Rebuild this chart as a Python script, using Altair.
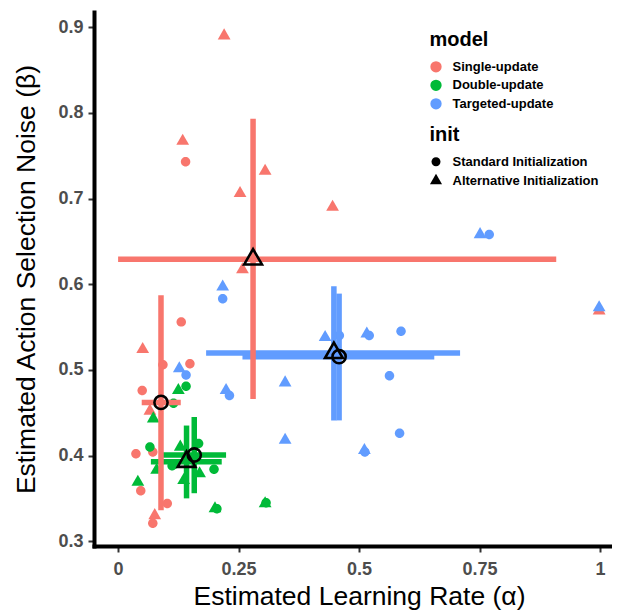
import altair as alt
import pandas as pd

MODELS = ["Single-update", "Double-update", "Targeted-update"]
INITS = ["Standard Initialization", "Alternative Initialization"]
MODEL_COLORS = ["#F8766D", "#00BA38", "#619CFF"]

CIRCLE_PATH = "M1,0A1,1,0,1,1,-1,0A1,1,0,1,1,1,0Z"
TRIANGLE_PATH = "M0,-1.555L1.347,0.778L-1.347,0.778Z"

X_TICKS = [0, 0.25, 0.5, 0.75, 1]
Y_TICKS = [0.3, 0.4, 0.5, 0.6, 0.7, 0.8, 0.9]

# individual estimates (alpha = learning rate, beta = selection noise)
single_std_alpha = [0.131, 0.093, 0.149, 0.050, 0.037, 0.072, 0.047, 0.102, 0.072, 0.140]
single_std_beta = [0.556, 0.506, 0.507, 0.476, 0.402, 0.404, 0.359, 0.344, 0.321, 0.743]
single_alt_alpha = [0.220, 0.134, 0.305, 0.253, 0.445, 0.258, 0.051, 0.066, 0.076, 0.998]
single_alt_beta = [0.890, 0.767, 0.732, 0.706, 0.690, 0.617, 0.524, 0.452, 0.330, 0.569]

double_std_alpha = [0.141, 0.115, 0.066, 0.167, 0.199, 0.205, 0.307, 0.118, 0.150, 0.112]
double_std_beta = [0.481, 0.461, 0.410, 0.414, 0.384, 0.338, 0.345, 0.390, 0.396, 0.388]
double_alt_alpha = [0.125, 0.073, 0.041, 0.129, 0.136, 0.169, 0.201, 0.305, 0.080, 0.160]
double_alt_beta = [0.476, 0.443, 0.369, 0.410, 0.371, 0.379, 0.338, 0.344, 0.383, 0.396]

targeted_std_alpha = [0.217, 0.141, 0.231, 0.521, 0.587, 0.563, 0.584, 0.512, 0.770, 0.459]
targeted_std_beta = [0.583, 0.494, 0.470, 0.540, 0.545, 0.493, 0.426, 0.404, 0.658, 0.540]
targeted_alt_alpha = [0.217, 0.127, 0.224, 0.3465, 0.4295, 0.516, 0.511, 0.3465, 0.751, 0.998]
targeted_alt_beta = [0.597, 0.5015, 0.476, 0.485, 0.538, 0.542, 0.406, 0.418, 0.658, 0.5726]

# group summaries: mean and error ranges
sum_model = ["Single-update", "Single-update", "Double-update", "Double-update",
             "Targeted-update", "Targeted-update"]
sum_init = ["Standard Initialization", "Alternative Initialization"] * 3
mean_alpha = [0.089, 0.280, 0.158, 0.142, 0.4585, 0.4477]
mean_beta = [0.462, 0.629, 0.4006, 0.3928, 0.5154, 0.5198]
alpha_lo = [0.049, 0.0, 0.0907, 0.068, 0.258, 0.1826]
alpha_hi = [0.130, 0.909, 0.224, 0.215, 0.656, 0.7095]
beta_lo = [0.336, 0.466, 0.356, 0.350, 0.441, 0.441]
beta_hi = [0.587, 0.793, 0.445, 0.435, 0.589, 0.5975]

groups = [
    ("Single-update", "Alternative Initialization", single_alt_alpha, single_alt_beta),
    ("Single-update", "Standard Initialization", single_std_alpha, single_std_beta),
    ("Double-update", "Alternative Initialization", double_alt_alpha, double_alt_beta),
    ("Double-update", "Standard Initialization", double_std_alpha, double_std_beta),
    ("Targeted-update", "Alternative Initialization", targeted_alt_alpha, targeted_alt_beta),
    ("Targeted-update", "Standard Initialization", targeted_std_alpha, targeted_std_beta),
]
rows = []
for m, i, xs, ys in groups:
    for a, b in zip(xs, ys):
        rows.append({"model": m, "init": i, "alpha": a, "beta": b})
points = pd.DataFrame(rows)

summary = pd.DataFrame({
    "model": sum_model, "init": sum_init,
    "alpha": mean_alpha, "beta": mean_beta,
    "alpha_lo": alpha_lo, "alpha_hi": alpha_hi,
    "beta_lo": beta_lo, "beta_hi": beta_hi,
})

FONT = "Liberation Sans"
x_scale = alt.Scale(domain=[-0.05, 1.0247], nice=False, zero=False)
y_scale = alt.Scale(domain=[0.2944, 0.9177], nice=False, zero=False)
x_axis = alt.Axis(values=X_TICKS, format=".2~f", title="Estimated Learning Rate (α)",
                  titlePadding=5, labelPadding=8, titleX=265)
y_axis = alt.Axis(values=Y_TICKS, format=".1f", title="Estimated Action Selection Noise (β)",
                  titlePadding=17, labelPadding=5)
color_scale = alt.Scale(domain=MODELS, range=MODEL_COLORS)
shape_scale = alt.Scale(domain=INITS, range=[CIRCLE_PATH, TRIANGLE_PATH])

pts = alt.Chart(points).mark_point(filled=True, size=90, opacity=1, strokeWidth=0).encode(
    x=alt.X("alpha:Q", scale=x_scale, axis=x_axis),
    y=alt.Y("beta:Q", scale=y_scale, axis=y_axis),
    color=alt.Color("model:N", scale=color_scale, sort=MODELS, legend=alt.Legend(
        title="model", orient="none", legendX=335.5, legendY=18.3, padding=0,
        titleFontSize=20, titleFontWeight="bold", titleColor="black", titleFont=FONT,
        titlePadding=10, labelFontSize=13, labelFontWeight="bold", labelColor="black",
        labelFont=FONT, symbolType="circle", symbolSize=128, symbolStrokeWidth=0,
        symbolOpacity=1, rowPadding=4.5, labelOffset=10)),
    shape=alt.Shape("init:N", scale=shape_scale, sort=INITS, legend=alt.Legend(
        title="init", orient="none", legendX=335.5, legendY=113.3, padding=0,
        titleFontSize=20, titleFontWeight="bold", titleColor="black", titleFont=FONT,
        titlePadding=10, labelFontSize=13, labelFontWeight="bold", labelColor="black",
        labelFont=FONT, symbolSize=81, symbolFillColor="black", symbolStrokeColor="black",
        symbolStrokeWidth=0, symbolOpacity=1, rowPadding=4, labelOffset=10)),
)

hbars = alt.Chart(summary).mark_rule(strokeWidth=5.5, strokeCap="butt", opacity=1).encode(
    x=alt.X("alpha_lo:Q", scale=x_scale, axis=x_axis),
    x2="alpha_hi:Q",
    y=alt.Y("beta:Q", scale=y_scale, axis=y_axis),
    color=alt.Color("model:N", scale=color_scale, legend=None),
)
vbars = alt.Chart(summary).mark_rule(strokeWidth=5.5, strokeCap="butt", opacity=1).encode(
    x=alt.X("alpha:Q", scale=x_scale, axis=x_axis),
    y=alt.Y("beta_lo:Q", scale=y_scale, axis=y_axis),
    y2="beta_hi:Q",
    color=alt.Color("model:N", scale=color_scale, legend=None),
)
means = alt.Chart(summary).mark_point(filled=False, color="black", size=174,
                                      strokeWidth=2.6, opacity=1).encode(
    x=alt.X("alpha:Q", scale=x_scale, axis=x_axis),
    y=alt.Y("beta:Q", scale=y_scale, axis=y_axis),
    shape=alt.Shape("init:N", scale=shape_scale, legend=None),
)

chart = alt.layer(pts, hbars, vbars, means).properties(
    width=518, height=534,
    autosize=alt.AutoSizeParams(type="none"),
    padding={"left": 86, "top": 4, "right": 0, "bottom": 66},
).configure_view(stroke=None).configure_axis(
    grid=False, domainColor="black", domainWidth=4, domainCap="square",
    tickColor="#333333", tickWidth=2, tickSize=6,
    labelFont=FONT, labelFontSize=18, labelFontWeight="bold", labelColor="#4D4D4D",
    titleFont=FONT, titleFontSize=26.5, titleFontWeight="normal", titleColor="black",
)

chart.save("out.html", embed_options={"renderer": "svg", "actions": False})
